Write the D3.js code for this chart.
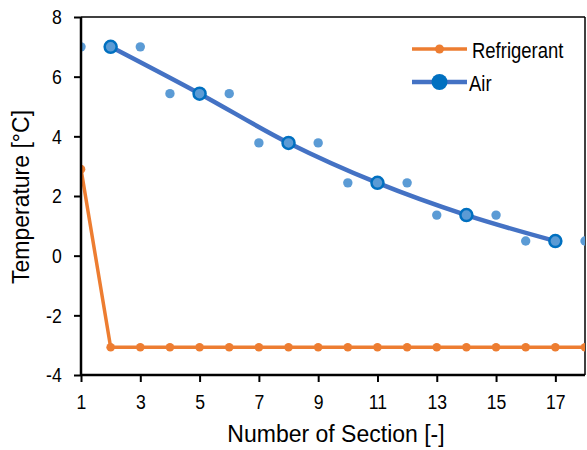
<!DOCTYPE html>
<html>
<head>
<meta charset="utf-8">
<script src="https://cdn.jsdelivr.net/npm/d3@7"></script>
<style>
  body { margin: 0; background: #fff; }
  text { font-family: "Liberation Sans", Arial, sans-serif; }
</style>
</head>
<body>
<script>
// data
var refX = [1,2,3,4,5,6,7,8,9,10,11,12,13,14,15,16,17,18];
var refT = [2.9,-3.07,-3.07,-3.07,-3.07,-3.07,-3.07,-3.07,-3.07,-3.07,-3.07,-3.07,-3.07,-3.07,-3.07,-3.07,-3.07,-3.07];
var airX = [2,5,8,11,14,17];
var airT = [7.0,5.43,3.78,2.44,1.36,0.49];
var dotX = [1,3,4,6,7,9,10,12,13,15,16,18];
var dotT = [7.0,7.0,5.43,5.43,3.78,3.78,2.44,2.44,1.36,1.36,0.49,0.49];
var xTicks = [1,3,5,7,9,11,13,15,17];
var yTicks = [-4,-2,0,2,4,6,8];

var w = 587, h = 450;
var mLeft = 81, mRight = 585, mTop = 17, mBottom = 375;
var squeeze = 0.84; // labels are drawn a bit condensed

var x = d3.scaleLinear().domain([1,18]).range([mLeft,mRight]);
var y = d3.scaleLinear().domain([-4,8]).range([mBottom,mTop]);

var svg = d3.select("body").append("svg")
  .attr("width", w).attr("height", h);

svg.append("clipPath").attr("id","clip")
  .append("rect").attr("x", mLeft).attr("y", mTop - 10)
  .attr("width", mRight - mLeft).attr("height", mBottom - mTop + 10);

// frame top / right
svg.append("line").attr("x1", mLeft).attr("x2", mRight).attr("y1", mTop).attr("y2", mTop)
  .attr("stroke", "#000").attr("stroke-width", 1.5);
svg.append("line").attr("x1", mRight).attr("x2", mRight).attr("y1", mTop).attr("y2", mBottom)
  .attr("stroke", "#000").attr("stroke-width", 1.5);

var plot = svg.append("g").attr("clip-path", "url(#clip)");

// air scattered dots
plot.selectAll(".dot")
  .data(dotX.map(function(d,i){ return [d, dotT[i]]; }))
  .enter().append("circle")
  .attr("cx", function(d){ return x(d[0]); })
  .attr("cy", function(d){ return y(d[1]); })
  .attr("r", 4.7)
  .attr("fill", "#5B9BD5");

// refrigerant
var refData = refX.map(function(d,i){ return [d, refT[i]]; });
plot.append("path").datum(refData)
  .attr("fill","none").attr("stroke","#ED7D31").attr("stroke-width",3.5)
  .attr("d", d3.line().x(function(d){ return x(d[0]); }).y(function(d){ return y(d[1]); }));
plot.selectAll(".ref").data(refData).enter().append("circle")
  .attr("cx", function(d){ return x(d[0]); })
  .attr("cy", function(d){ return y(d[1]); })
  .attr("r", 4.3).attr("fill","#ED7D31");

// air line
var airData = airX.map(function(d,i){ return [d, airT[i]]; });
plot.append("path").datum(airData)
  .attr("fill","none").attr("stroke","#4472C4").attr("stroke-width",4.5)
  .attr("d", d3.line().curve(d3.curveCatmullRom)
    .x(function(d){ return x(d[0]); }).y(function(d){ return y(d[1]); }));
plot.selectAll(".air").data(airData).enter().append("circle")
  .attr("cx", function(d){ return x(d[0]); })
  .attr("cy", function(d){ return y(d[1]); })
  .attr("r", 6).attr("fill","#5B9BD5")
  .attr("stroke","#0070C0").attr("stroke-width",2.5);

// axes
var xAxis = svg.append("g").attr("transform","translate(0," + mBottom + ")")
  .call(d3.axisBottom(x).tickValues(xTicks).tickSize(7).tickPadding(12));
var yAxis = svg.append("g").attr("transform","translate(" + mLeft + ",0)")
  .call(d3.axisLeft(y).tickValues(yTicks).tickSize(7).tickPadding(16)
    .tickFormat(function(d){ return d < 0 ? "-" + Math.abs(d) : d; }));
[xAxis, yAxis].forEach(function(a){
  a.select(".domain").attr("stroke","#000").attr("stroke-width",2.5);
  a.selectAll(".tick line").attr("stroke","#000").attr("stroke-width",2);
  a.selectAll(".tick text").attr("font-size",21).attr("fill","#000")
    .attr("font-family","Liberation Sans, Arial, sans-serif")
    .attr("transform","scale(" + squeeze + ",1)");
});
xAxis.select(".domain").attr("d", "M" + mLeft + ",0H" + mRight);
yAxis.select(".domain").attr("d", "M0," + mBottom + "V" + mTop);

// titles
svg.append("text").attr("x", 336).attr("y", 442)
  .attr("text-anchor","middle").attr("font-size",23).text("Number of Section [-]");
svg.append("text").attr("transform","translate(29,197) rotate(-90)")
  .attr("text-anchor","middle").attr("font-size",23).text("Temperature [°C]");

// legend
var legend = svg.append("g");
var items = [
  {name:"Refrigerant", color:"#ED7D31", mk:"#ED7D31", r:4.5, sw:3.5, y:49, tx:472},
  {name:"Air", color:"#4472C4", mk:"#0070C0", r:8, sw:4.5, y:82, tx:469}
];
items.forEach(function(it){
  legend.append("line").attr("x1",412).attr("x2",467).attr("y1",it.y).attr("y2",it.y)
    .attr("stroke",it.color).attr("stroke-width",it.sw);
  legend.append("circle").attr("cx",439.5).attr("cy",it.y).attr("r",it.r).attr("fill",it.mk);
  legend.append("text")
    .attr("transform","translate(" + it.tx + "," + (it.y + 8.5) + ") scale(" + squeeze + ",1)")
    .attr("font-size",22).text(it.name);
});
</script>
</body>
</html>
